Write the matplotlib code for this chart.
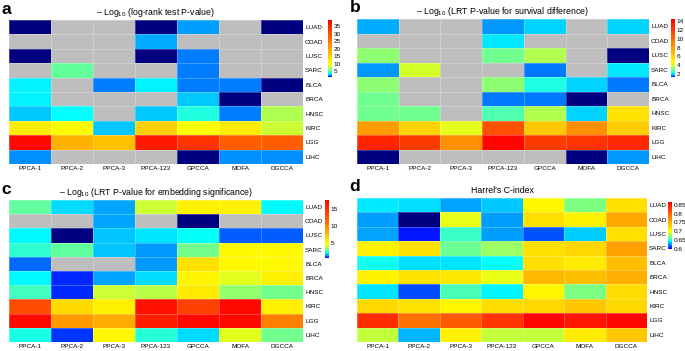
import matplotlib
matplotlib.use("Agg")
import matplotlib.pyplot as plt
import numpy as np
from matplotlib.colors import LinearSegmentedColormap, Normalize

plt.rcParams["font.family"] = ["Liberation Sans", "DejaVu Sans"]
plt.rcParams["mathtext.fontset"] = "custom"
plt.rcParams["mathtext.rm"] = "Liberation Sans"

methods = ["PPCA-1", "PPCA-2", "PPCA-3", "PPCA-123", "GPCCA", "MOFA", "DGCCA"]
cancers = ["LUAD", "COAD", "LUSC", "SARC", "BLCA", "BRCA", "HNSC", "KIRC", "LGG", "LIHC"]
nan = np.nan

# values below the colour range show as navy, nan shows as grey
logrank = [
    [1.0, nan, nan, 1.0, 2.5, nan, 1.0],
    [nan, nan, nan, 2.7, nan, nan, nan],
    [1.0, nan, nan, 1.0, 2.3, nan, nan],
    [nan, 5.5, nan, nan, 2.3, nan, nan],
    [3.5, nan, 2.2, 3.5, 2.3, 2.3, 1.0],
    [3.4, nan, nan, nan, 3.0, 1.0, nan],
    [3.0, 3.6, nan, 3.0, 4.2, 2.3, 7.5],
    [12.0, 10.5, 3.0, 15.0, 10.0, 12.0, 8.5],
    [38.0, 18.5, 17.0, 36.0, 33.0, 28.0, 28.0],
    [2.4, nan, nan, nan, 1.0, 2.4, 2.4],
]
lrt_surv = [
    [1.8, nan, nan, 1.7, 2.0, nan, 2.0],
    [nan, nan, nan, 2.1, nan, nan, nan],
    [3.2, nan, nan, 2.9, 3.6, nan, 1.0],
    [1.7, 4.0, nan, nan, 1.6, nan, 2.1],
    [3.2, nan, nan, 3.2, 2.4, 2.0, 1.6],
    [2.9, nan, nan, 1.6, 1.6, 1.0, nan],
    [2.9, 2.9, nan, 2.7, 3.6, 2.0, 5.5],
    [8.0, 6.0, 4.2, 11.0, 6.5, 8.5, 6.3],
    [13.0, 12.0, 8.5, 14.3, 12.0, 12.3, 12.8],
    [1.0, nan, nan, nan, nan, 1.0, 1.7],
]
lrt_emb = [
    [3.0, 2.0, 1.7, 4.3, 5.5, 5.5, 2.2],
    [nan, nan, 1.7, nan, 0.5, nan, nan],
    [2.2, 0.5, 1.9, 2.1, 2.3, 1.3, 1.3],
    [2.6, 3.0, 1.9, 1.6, 3.1, 5.2, 5.2],
    [1.35, nan, nan, 1.6, 6.2, 5.3, 5.3],
    [2.2, 1.05, 1.7, 2.0, 5.4, 4.6, 5.6],
    [2.7, 1.05, 4.3, 4.0, 5.8, 3.5, 3.1],
    [13.0, 6.5, 5.6, 16.5, 13.8, 17.0, 5.6],
    [17.0, 9.0, 8.3, 15.8, 17.0, 17.0, 10.0],
    [2.4, 1.1, 5.3, 2.5, 2.0, 4.6, 3.1],
]
cindex = [
    [0.642, 0.640, 0.630, 0.636, 0.705, 0.668, 0.720],
    [0.628, 0.580, 0.695, 0.628, 0.720, 0.708, 0.755],
    [0.630, 0.605, 0.655, 0.628, 0.615, 0.637, 0.720],
    [0.708, 0.720, 0.665, 0.675, 0.720, 0.725, 0.760],
    [0.648, 0.640, 0.641, 0.646, 0.720, 0.712, 0.740],
    [0.708, 0.717, 0.714, 0.695, 0.745, 0.740, 0.750],
    [0.641, 0.614, 0.658, 0.644, 0.705, 0.668, 0.722],
    [0.725, 0.718, 0.705, 0.722, 0.725, 0.735, 0.725],
    [0.835, 0.790, 0.805, 0.830, 0.860, 0.850, 0.860],
    [0.685, 0.633, 0.708, 0.685, 0.685, 0.712, 0.735],
]

JET = ["#0000ff", "#008cff", "#00ffff", "#80ff80", "#ffff00", "#ff8000", "#ff0000"]

panels = [
    dict(letter="a", data=logrank, title="– Log$_{10}$ (log-rank test P-value)",
         anchors=[1.3, 2.3, 3.5, 6.0, 10.0, 24.0, 39.0], ticks=[5, 10, 15, 20, 25, 30, 35],
         ax=[9, 303, 20, 164], cb=[328, 20, 77]),
    dict(letter="b", data=lrt_surv, title="– Log$_{10}$ (LRT P-value for survival difference)",
         anchors=[1.3, 1.6, 2.2, 3.0, 4.5, 9.0, 14.5], ticks=[2, 4, 6, 8, 10, 12, 14],
         ax=[357, 649, 19, 164], cb=[671, 19, 77]),
    dict(letter="c", data=lrt_emb, title="– Log$_{10}$ (LRT P-value for embedding significance)",
         anchors=[0.8, 1.5, 2.2, 3.2, 5.0, 10.0, 17.5], ticks=[5, 10, 15],
         ax=[9, 303, 200, 342], cb=[325, 200, 258]),
    dict(letter="d", data=cindex, title="Harrel's C-index",
         anchors=[0.6, 0.625, 0.645, 0.668, 0.70, 0.78, 0.865],
         ticks=[0.6, 0.65, 0.7, 0.75, 0.8, 0.85],
         ax=[357, 647, 198, 342], cb=[668, 202, 249]),
]

W, H = 685, 351
fig = plt.figure(figsize=(W / 100, H / 100), dpi=100)

for p in panels:
    x0, x1, y0, y1 = p["ax"]
    ax = fig.add_axes([x0 / W, 1 - y1 / H, (x1 - x0) / W, (y1 - y0) / H])
    a = p["anchors"]
    vmin, vmax = a[0], a[-1]
    pos = [(v - vmin) / (vmax - vmin) for v in a]
    cmap = LinearSegmentedColormap.from_list("c" + p["letter"], list(zip(pos, JET)))
    cmap.set_under("#000080")
    cmap.set_bad("#bebebe")
    norm = Normalize(vmin=vmin, vmax=vmax)
    z = np.ma.masked_invalid(np.array(p["data"], dtype=float))
    mesh = ax.pcolormesh(np.arange(len(methods) + 1), np.arange(len(cancers) + 1), z,
                         cmap=cmap, norm=norm, edgecolors=(1, 1, 1, 0.25), linewidth=0.4)
    ax.set_xlim(0, len(methods))
    ax.set_ylim(len(cancers), 0)
    ax.set_xticks(np.arange(len(methods)) + 0.5)
    ax.set_xticklabels(methods, fontsize=4.6)
    ax.set_yticks(np.arange(len(cancers)) + 0.5)
    ax.set_yticklabels(cancers, fontsize=4.6)
    ax.yaxis.tick_right()
    ax.tick_params(axis="x", length=0, pad=1.2)
    ax.tick_params(axis="y", length=0, pad=1.5)
    for s in ax.spines.values():
        s.set_visible(False)
    ax.set_title(p["title"], fontsize=6.3, pad=3.5)
    fig.text((x0 - 9) / W + 0.002, 1 - (y0 - 11) / H, p["letter"], fontsize=12.5,
             fontweight="bold", va="center", ha="left")

    cx, cy0, cy1 = p["cb"]
    cax = fig.add_axes([cx / W, 1 - cy1 / H, 4 / W, (cy1 - cy0) / H])
    cb = fig.colorbar(mesh, cax=cax, ticks=p["ticks"])
    cb.outline.set_visible(False)
    cb.ax.tick_params(labelsize=4.6, length=0, pad=1.2)
    cb.ax.set_yticklabels([f"{t:g}" for t in p["ticks"]])

fig.savefig("out.png", dpi=100)
